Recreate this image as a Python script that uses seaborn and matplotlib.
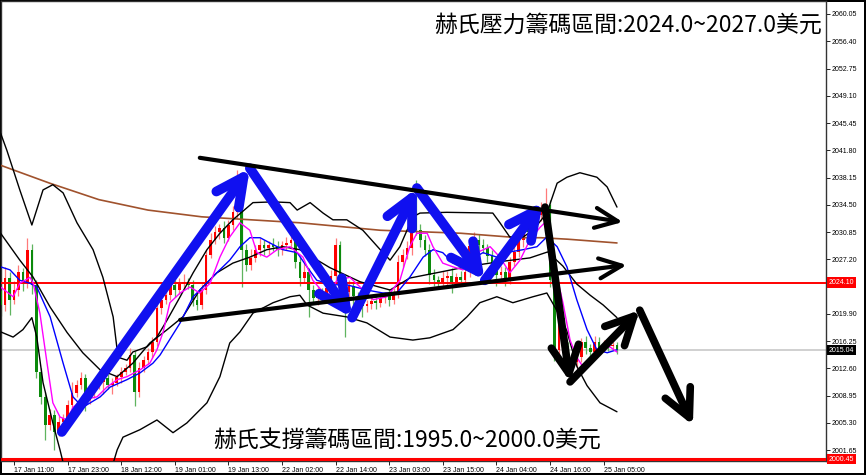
import numpy as np
import pandas as pd
import matplotlib
matplotlib.use("Agg")
import matplotlib.pyplot as plt
import seaborn as sns

sns.set_theme(style="white")
plt.rcParams['font.family'] = ['Noto Sans CJK TC', 'DejaVu Sans']

# ---- hourly XAUUSD candles ----
closes = [
    2021.1, 2024.7, 2021.8, 2023.1, 2025.5, 2024.0, 2028.5, 2023.8, 2012.1, 2008.8, 2005.0, 2006.4,
    2004.1, 2005.4, 2006.0, 2007.7, 2009.3, 2010.4, 2011.3, 2008.4, 2009.5, 2010.4, 2010.8, 2011.3,
    2010.4, 2010.7, 2011.5, 2012.1, 2012.7, 2014.4, 2009.5, 2012.7, 2013.7, 2014.8, 2016.1, 2020.7,
    2021.8, 2022.4, 2023.8, 2023.1, 2023.9, 2024.2, 2023.8, 2021.8, 2021.1, 2023.1, 2027.8, 2029.8,
    2030.9, 2031.4, 2030.1, 2031.8, 2033.5, 2034.8, 2028.5, 2026.5, 2027.4, 2028.5, 2029.1, 2028.7,
    2029.1, 2028.9, 2028.5, 2029.1, 2029.4, 2029.8, 2026.9, 2024.7, 2025.5, 2023.1, 2022.0, 2022.8,
    2022.5, 2023.4, 2025.0, 2029.1, 2024.0, 2022.8, 2023.6, 2022.3, 2021.4, 2021.0, 2021.2, 2021.6,
    2021.4, 2022.0, 2022.4, 2021.8, 2022.8, 2026.9, 2027.8, 2028.7, 2032.7, 2031.1, 2029.8, 2028.5,
    2025.1, 2024.4, 2024.2, 2024.7, 2025.0, 2024.2, 2024.8, 2024.4, 2025.5, 2029.0, 2029.8, 2029.1,
    2028.7, 2027.7, 2026.3, 2025.1, 2025.5, 2024.7, 2026.9, 2028.2, 2029.8, 2031.4, 2030.9, 2032.2,
    2033.1, 2034.1, 2034.5, 2024.4, 2015.1, 2019.4, 2015.6, 2014.0, 2013.5, 2014.1, 2016.1, 2015.3,
    2014.8, 2016.1, 2015.3, 2015.9, 2015.6, 2015.7, 2015.04,
]
first_open = 2023.0
upper_wick = [
    1.0, 1.5, 0.8, 1.2, 1.0, 0.6, 1.5, 0.8, 0.7, 0.5, 0.6, 0.8,
    0.6, 0.8, 0.5, 0.7, 1.5, 0.6, 0.8, 0.6, 0.5, 0.7, 0.6, 0.5,
    0.5, 0.6, 0.4, 0.7, 0.5, 0.9, 0.6, 0.8, 0.5, 0.6, 0.7, 0.8,
    0.7, 0.8, 1.2, 0.6, 0.8, 1.0, 0.5, 0.6, 0.7, 0.8, 0.6, 0.9,
    0.8, 0.6, 0.9, 0.7, 0.8, 4.4, 1.0, 0.8, 1.2, 0.6, 0.9, 0.7,
    0.6, 0.9, 0.7, 0.5, 0.8, 0.6, 0.7, 0.8, 1.2, 0.6, 0.7, 0.8,
    0.6, 0.7, 0.8, 0.9, 0.6, 0.7, 0.8, 0.6, 0.5, 0.7, 0.6, 0.8,
    0.6, 0.7, 0.5, 0.8, 0.6, 0.9, 0.8, 1.0, 1.2, 5.1, 0.8, 0.7,
    0.7, 0.8, 0.6, 0.9, 0.7, 1.0, 0.6, 0.8, 0.9, 0.7, 1.1, 0.8,
    0.8, 0.6, 0.7, 0.9, 0.8, 0.7, 0.6, 0.9, 0.8, 0.6, 0.7, 0.9,
    0.7, 0.8, 2.3, 0.6, 0.8, 0.9, 0.7, 0.6, 0.8, 0.7, 0.6, 0.9,
    0.6, 0.8, 0.7, 0.5, 0.6, 0.5, 0.4,
]
lower_wick = [
    1.5, 0.8, 2.0, 0.6, 0.8, 1.0, 0.6, 1.2, 0.8, 1.0, 2.0, 0.7,
    2.4, 0.5, 0.8, 0.6, 0.7, 0.5, 0.6, 1.5, 0.6, 0.8, 0.5, 1.6,
    0.6, 1.2, 0.5, 0.8, 0.4, 0.6, 1.9, 0.7, 0.6, 0.5, 0.8, 0.5,
    0.8, 0.6, 0.7, 1.0, 0.5, 0.8, 0.6, 0.9, 0.7, 0.5, 0.6, 0.4,
    0.6, 1.0, 0.7, 0.5, 0.6, 0.8, 5.0, 0.9, 0.7, 0.6, 0.8, 0.9,
    0.8, 0.6, 0.9, 0.7, 0.6, 0.8, 0.9, 1.0, 0.7, 3.6, 0.8, 0.9,
    0.7, 0.8, 0.6, 0.7, 0.9, 6.0, 0.8, 1.2, 0.9, 1.5, 0.8, 0.7,
    0.8, 0.6, 0.7, 0.9, 0.6, 0.8, 0.7, 0.6, 0.9, 0.7, 1.0, 0.8,
    1.2, 0.8, 0.9, 0.7, 1.0, 1.5, 0.6, 0.8, 0.7, 0.6, 0.8, 0.9,
    0.7, 0.9, 0.8, 1.4, 0.7, 1.0, 0.8, 0.6, 0.7, 0.9, 0.8, 0.6,
    0.6, 0.7, 0.8, 0.9, 1.5, 1.7, 0.8, 0.6, 0.9, 0.8, 0.6, 0.7,
    0.7, 0.6, 0.8, 0.5, 0.6, 0.4, 0.5,
]

# ---- indicator lines (bar index, price) ----
ma_slow_bar = [0, 11, 22, 33, 45, 56, 67, 85, 103, 116, 121, 127, 138]
ma_slow_val = [2039.8, 2037.4, 2035.2, 2033.8, 2032.9, 2032.5, 2032.1, 2031.1, 2030.7, 2030.1, 2030.1, 2029.9, 2029.4]

ma_mid_bar = [0, 2.1, 4.3, 6.6, 8.1, 11.1, 14.0, 16.2, 18.4, 22.3, 24.5, 28.3, 31.2, 34.1, 35.7, 40.2,
              43.1, 45.3, 48.4, 51.3, 53.6, 55.8, 58.1, 60.3, 63.2, 66.4, 68.6, 70.8, 74.4, 77.5, 82.0,
              85.6, 88.7, 91.6, 94.6, 96.8, 99.0, 101.3, 105.1, 108.0, 111.1, 114.0, 117.0, 120.1,
              122.3, 124.6, 126.8, 129.0, 131.3, 133.5, 135.8, 138]
ma_mid_val = [2026.2, 2025.8, 2024.4, 2024.0, 2023.5, 2019.5, 2013.3, 2008.8, 2007.4, 2008.8, 2010.1,
              2011.1, 2012.0, 2013.3, 2014.4, 2018.7, 2022.2, 2023.5, 2025.4, 2027.1, 2028.9, 2030.1,
              2030.1, 2029.4, 2028.5, 2028.1, 2026.2, 2024.4, 2023.8, 2023.8, 2023.1, 2022.7, 2022.7,
              2024.8, 2027.5, 2028.5, 2028.1, 2026.7, 2027.1, 2028.1, 2027.5, 2028.2, 2028.5, 2028.9,
              2030.2, 2028.9, 2026.2, 2021.8, 2017.8, 2015.1, 2014.7, 2015.1]

ma_fast_bar = [0, 2.8, 4.3, 6.6, 7.3, 8.8, 10.4, 11.7, 13.3, 14.9, 16.2, 18.4, 21.6, 23.8, 26.1, 28.3,
               31.2, 33.4, 35.0, 36.4, 37.9, 40.2, 42.4, 44.6, 46.9, 49.1, 51.3, 53.6, 55.8, 57.4, 59.6,
               61.9, 64.8, 67.7, 69.9, 73.1, 75.3, 78.2, 80.5, 83.4, 86.5, 89.4, 91.6, 93.2, 95.5, 96.8,
               99.0, 101.3, 103.5, 106.6, 109.6, 111.8, 114.0, 116.3, 118.5, 120.8, 122.5, 124.6, 125.9,
               127.5, 129.0, 130.4, 132.0, 134.2, 136.4, 138]
ma_fast_val = [2023.5, 2022.2, 2024.0, 2024.8, 2024.0, 2020.0, 2013.3, 2008.0, 2006.1, 2005.7, 2007.4,
               2008.4, 2008.8, 2010.1, 2011.1, 2011.5, 2012.4, 2013.3, 2015.1, 2017.5, 2021.4, 2022.7,
               2023.5, 2022.7, 2024.0, 2027.5, 2030.2, 2032.1, 2031.1, 2028.1, 2027.5, 2028.5, 2028.9,
               2027.5, 2024.4, 2022.2, 2024.4, 2024.8, 2023.5, 2021.8, 2022.2, 2024.4, 2028.9, 2030.7,
               2030.7, 2028.9, 2026.7, 2026.2, 2025.8, 2028.1, 2028.9, 2027.5, 2025.4, 2027.1, 2029.8,
               2031.5, 2032.5, 2024.8, 2021.4, 2016.4, 2014.1, 2012.8, 2013.7, 2015.1, 2015.5, 2014.8]

bb_up_bar = [0, 1.4, 4.3, 7.0, 9.5, 11.7, 14.0, 17.1, 20.7, 22.9, 25.2, 26.3, 28.3, 29.6, 32.8, 35.0,
             37.3, 40.2, 43.1, 46.2, 49.1, 52.0, 56.5, 61.0, 64.8, 66.4, 69.3, 72.2, 74.4, 77.5, 81.1,
             85.0, 87.2, 89.4, 92.3, 93.9, 99.9, 110.2, 111.8, 114.0, 117.0, 119.2, 122.3, 124.6,
             126.8, 129.7, 133.5, 135.8, 138]
bb_up_val = [2044.1, 2041.8, 2036.5, 2031.8, 2036.5, 2037.2, 2036.1, 2032.1, 2028.5, 2024.8, 2019.5,
             2014.1, 2013.7, 2014.8, 2015.5, 2016.8, 2019.1, 2022.2, 2025.4, 2028.5, 2030.7, 2032.5,
             2034.8, 2034.9, 2034.8, 2033.8, 2034.8, 2033.4, 2032.5, 2032.5, 2031.1, 2028.5, 2027.1,
             2028.9, 2032.9, 2033.4, 2033.5, 2033.4, 2032.1, 2030.2, 2030.2, 2031.1, 2033.4, 2037.4,
             2038.2, 2038.8, 2038.2, 2036.9, 2034.2]

bb_mid_bar = [0, 4.3, 7.3, 11.1, 14.9, 18.4, 22.3, 26.1, 29.6, 33.4, 37.3, 40.8, 44.6, 48.4, 52.0, 55.8,
              59.6, 63.2, 67.0, 73.7, 80.5, 87.2, 91.6, 98.4, 105.1, 111.8, 118.5, 122.5, 125.9, 129.0,
              132.0, 134.9, 138]
bb_mid_val = [2030.7, 2027.1, 2024.8, 2020.8, 2017.4, 2014.7, 2012.4, 2011.5, 2013.3, 2016.0, 2017.8,
              2019.5, 2023.1, 2025.4, 2026.7, 2027.5, 2028.5, 2028.9, 2028.5, 2026.1, 2024.2, 2023.1,
              2024.7, 2025.5, 2026.3, 2026.9, 2027.4, 2028.2, 2026.3, 2023.9, 2022.4, 2021.1, 2019.4]

bb_low_bar = [0, 2.8, 5.0, 7.0, 8.1, 9.5, 11.7, 13.3, 15.5, 20.0, 23.4, 26.1, 27.4, 31.2, 35.0, 38.6,
              41.7, 46.2, 49.1, 51.3, 53.6, 56.5, 61.0, 64.8, 67.0, 68.6, 72.2, 77.5, 82.0, 87.2, 92.3,
              96.1, 101.3, 104.4, 107.3, 111.1, 114.7, 119.2, 122.3, 124.6, 126.8, 129.0, 131.3,
              134.2, 138]
bb_low_val = [2017.5, 2016.8, 2017.8, 2019.4, 2016.8, 2010.7, 2005.3, 2001.7, 1996.3, 1994.3, 1996.3,
              2001.7, 2003.4, 2004.4, 2005.7, 2004.0, 2005.3, 2008.0, 2011.5, 2016.0, 2017.5, 2020.0,
              2021.4, 2022.2, 2022.4, 2021.1, 2020.0, 2019.5, 2018.7, 2016.8, 2016.4, 2016.7, 2017.8,
              2019.5, 2021.4, 2022.2, 2021.4, 2022.2, 2022.7, 2020.3, 2017.6, 2012.9, 2010.3, 2008.0,
              2006.8]

# ---- levels and axis labels ----
resist_level = 2024.10
support_level = 2000.45
last_price = 2015.04
y_ticks = [2060.05 - 3.65 * k for k in range(17)]
x_tick_bars = [3 + 12 * k for k in range(12)]
x_tick_labels = ["17 Jan 11:00", "17 Jan 23:00", "18 Jan 12:00", "19 Jan 01:00", "19 Jan 13:00",
                 "22 Jan 02:00", "22 Jan 14:00", "23 Jan 03:00", "23 Jan 15:00", "24 Jan 04:00",
                 "24 Jan 16:00", "25 Jan 05:00"]
title_top = "赫氏壓力籌碼區間:2024.0~2027.0美元"
title_bottom = "赫氏支撐籌碼區間:1995.0~2000.0美元"

# hand drawn analysis strokes (bar index, price)
blue_path = [(13.7, 2004.1), (55.8, 2039.4), (78.7, 2019.4), (93.2, 2036.75), (108.4, 2024.4), (121.4, 2034.9)]
black_path = [(121.9, 2034.2), (127.5, 2010.8), (143.1, 2020.4), (155.0, 2005.0)]
trend_top = [(44.6, 2040.8), (139.3, 2032.2)]
trend_low = [(40.2, 2019.1), (140.2, 2026.45)]

# ---- build frame ----
bars = np.arange(len(closes))
opens = [first_open] + closes[:-1]
df = pd.DataFrame({"bar": bars, "open": opens, "close": closes})
df["high"] = df[["open", "close"]].max(axis=1) + np.array(upper_wick)
df["low"] = df[["open", "close"]].min(axis=1) - np.array(lower_wick)
df["up"] = df["close"] >= df["open"]

fig = plt.figure(figsize=(8.66, 4.75), dpi=100, linewidth=1.5, edgecolor="black")
ax = fig.add_axes([1 / 866, 14 / 475, 825 / 866, 460 / 475])
ax.set_facecolor("white")

red_c, green_c = "#ff0000", "#0b8a0b"
body_col = np.where(df["up"], red_c, green_c)
wick_col = np.where(df["up"], "#ff7a7a", "#5fb45f")
ax.vlines(df["bar"], df["low"], df["high"], colors=wick_col, lw=0.9, zorder=2)
body_h = (df["close"] - df["open"]).abs().clip(lower=0.12)
ax.bar(df["bar"], body_h, bottom=df[["open", "close"]].min(axis=1), width=0.6,
       color=body_col, linewidth=0, zorder=3)

# horizontal levels
ax.axhline(last_price, color="#c8c8c8", lw=1.2, zorder=1)
ax.axhline(resist_level, color="#ff0000", lw=1.4, zorder=4)
ax.axhline(support_level, color="#ff0000", lw=2.2, zorder=4)

# indicators
sns.lineplot(x=ma_slow_bar, y=ma_slow_val, ax=ax, color="#a0522d", lw=1.2, zorder=5)
for bx, bv in [(bb_up_bar, bb_up_val), (bb_mid_bar, bb_mid_val), (bb_low_bar, bb_low_val)]:
    sns.lineplot(x=bx, y=bv, ax=ax, color="black", lw=1.0, zorder=5)
sns.lineplot(x=ma_mid_bar, y=ma_mid_val, ax=ax, color="#0000ff", lw=1.0, zorder=6)
sns.lineplot(x=ma_fast_bar, y=ma_fast_val, ax=ax, color="#ff00ff", lw=1.0, zorder=6)


def arrow(p0, p1, color, lw, scale, hl=0.9, hw=0.45):
    ax.annotate("", xy=p1, xytext=p0,
                arrowprops=dict(arrowstyle=f"->,head_length={hl},head_width={hw}",
                                color=color, lw=lw, shrinkA=0, shrinkB=0,
                                mutation_scale=scale, capstyle="round", joinstyle="round"),
                zorder=8)


for a, b in zip(blue_path[:-1], blue_path[1:]):
    arrow(a, b, "#1010f0", 7.0, 22)
arrow(trend_top[0], trend_top[1], "black", 3.0, 18, 0.9, 0.4)
arrow(trend_low[0], trend_low[1], "black", 3.0, 18, 0.9, 0.4)
for a, b in zip(black_path[:-1], black_path[1:]):
    arrow(a, b, "black", 5.5, 22)

ax.set_xlim(0.09, 184.8)
ax.set_ylim(2000.21, 2061.79)

# axes / ticks; the 2023.55 label sits under the red price box, as on the terminal
ax.yaxis.tick_right()
ax.set_yticks(y_ticks)
ax.set_yticklabels(["" if abs(v - resist_level) < 1.0 else f"{v:.2f}" for v in y_ticks],
                   fontsize=5, fontfamily="Liberation Sans")
ax.set_xticks(x_tick_bars)
ax.set_xticklabels(x_tick_labels, fontsize=5, fontfamily="Liberation Sans")
for lab in ax.get_xticklabels():
    lab.set_horizontalalignment("left")
ax.tick_params(axis="y", right=True, length=3, width=0.6, pad=1, colors="black")
ax.tick_params(axis="x", bottom=True, length=3, width=0.6, pad=1, colors="black")
ax.set_xlabel("")
ax.set_ylabel("")
for s in ax.spines.values():
    s.set_color("#333333")
    s.set_linewidth(1.0)

# price boxes on the scale
ytr = ax.get_yaxis_transform()
for val, bg in [(resist_level, "#ff0000"), (support_level, "#ff0000"), (last_price, "black")]:
    ax.text(1.003, val, f"{val:.2f}", transform=ytr, fontsize=5, fontfamily="Liberation Sans",
            color="white", va="center", ha="left", clip_on=False, zorder=10,
            bbox=dict(boxstyle="square,pad=0.25", fc=bg, ec="none"))

ax.text(0.995, 0.948, title_top, transform=ax.transAxes, ha="right", va="center",
        fontsize=16.5, color="black", zorder=9)
ax.text(0.257, 0.046, title_bottom, transform=ax.transAxes, ha="left", va="center",
        fontsize=16.5, color="black", zorder=9)

fig.savefig("out.png", dpi=100, facecolor="white", edgecolor=fig.get_edgecolor())
